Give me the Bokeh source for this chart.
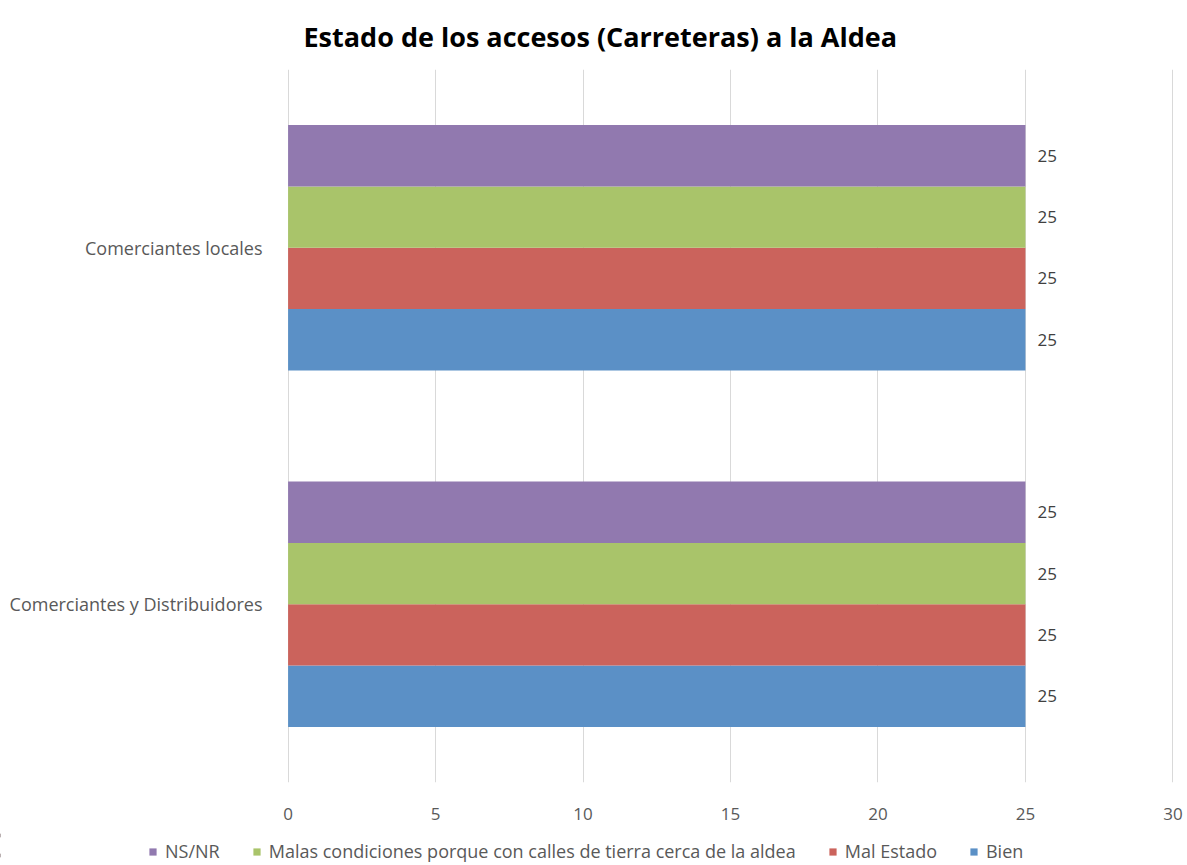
from bokeh.plotting import figure
from bokeh.models import (FactorRange, Range1d, Legend, LegendItem, ColumnDataSource, Title,
                          FixedTicker)
from bokeh.transform import dodge
from bokeh.core.properties import value
from bokeh.embed import file_html
from bokeh.resources import INLINE

categories = ["Comerciantes y Distribuidores", "Comerciantes locales"]
series_names = ["Bien", "Mal Estado",
                "Malas condiciones porque con calles de tierra cerca de la aldea", "NS/NR"]
bien = [25, 25]
mal_estado = [25, 25]
malas_condiciones = [25, 25]
ns_nr = [25, 25]
x_ticks = [0, 5, 10, 15, 20, 25, 30]

colors = ["#5B90C6", "#CB635C", "#A9C46A", "#9179AF"]
offsets = [-0.258, -0.086, 0.086, 0.258]
values_list = [bien, mal_estado, malas_condiciones, ns_nr]

FONT = "Open Sans"

p = figure(y_range=FactorRange(factors=categories), x_range=Range1d(-0.02, 30.02),
           width=1187, height=825,
           min_border_left=287, min_border_right=14, min_border_top=68,
           min_border_bottom=43, output_backend="svg", toolbar_location=None,
           tools="")

p.add_layout(Title(text="Estado de los accesos (Carreteras) a la Aldea",
                   align="left", text_font=FONT, text_font_size="27px",
                   text_font_style="bold", text_color="#000000", offset=16,
                   standoff=30), "above")

# legend-only figure below the chart (separate root, its bars are zero-width)
p2 = figure(y_range=FactorRange(factors=categories), x_range=Range1d(100, 101),
            width=1187, height=40, min_border=0, output_backend="svg",
            toolbar_location=None, tools="", x_axis_location=None, y_axis_location=None)
p2.xgrid.visible = False
p2.ygrid.visible = False
p2.outline_line_color = None

renderers = []
for name, vals, col, off in zip(series_names, values_list, colors, offsets):
    src = ColumnDataSource(dict(cat=categories, val=vals, lab=[str(v) for v in vals]))
    p.hbar(y=dodge("cat", off, range=p.y_range), right="val", left=0, height=0.172,
           source=src, fill_color=col, line_color=None)
    p.text(x="val", y=dodge("cat", off, range=p.y_range), text="lab", source=src,
           x_offset=12, text_baseline="middle", text_align="left",
           text_font=value(FONT), text_font_size="17px", text_color="#404040")
    r2 = p2.hbar(y="cat", right="val", left="val", height=0.172, source=src,
                 fill_color=col, line_color=None)
    renderers.append((name, r2))

p.xaxis.ticker = FixedTicker(ticks=x_ticks)
p.xaxis.axis_line_color = None
p.xaxis.major_tick_line_color = None
p.xaxis.minor_tick_line_color = None
p.xaxis.major_label_standoff = 19
p.xaxis.major_label_text_font = FONT
p.xaxis.major_label_text_font_size = "17px"
p.xaxis.major_label_text_color = "#595959"

p.yaxis.axis_line_color = None
p.yaxis.major_tick_line_color = None
p.yaxis.minor_tick_line_color = None
p.yaxis.major_label_standoff = 19
p.yaxis.major_label_text_font = FONT
p.yaxis.major_label_text_font_size = "18px"
p.yaxis.major_label_text_color = "#595959"

p.xgrid.grid_line_color = "#D9D9D9"
p.ygrid.grid_line_color = None
p.outline_line_color = None

leg_order = list(reversed(renderers))
legend = Legend(items=[LegendItem(label=n, renderers=[r]) for n, r in leg_order],
                orientation="horizontal", location=(148, 2),
                glyph_width=9, glyph_height=9, spacing=32, padding=0, margin=0,
                label_text_font=FONT, label_text_font_size="18px",
                label_text_color="#595959", label_standoff=8,
                background_fill_alpha=0, border_line_color=None)
p2.add_layout(legend, "center")

open("out.html", "w").write(file_html([p, p2], INLINE))
